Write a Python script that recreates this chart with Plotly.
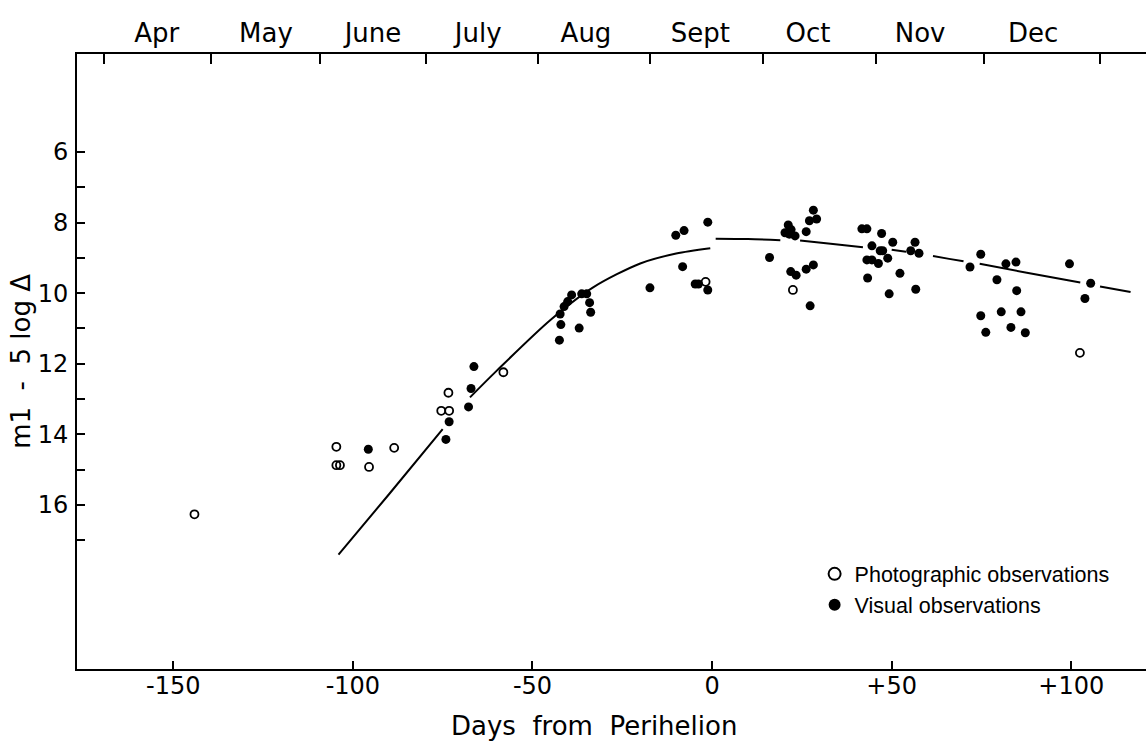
import plotly.graph_objects as go

# ---------------- data ----------------
photo_days = [-144.1, -104.6, -104.6, -103.6, -95.5, -88.5, -75.4, -73.2, -73.4, -58.1,
              -1.8, 22.5, 102.4]
photo_mag = [16.26, 14.35, 14.87, 14.87, 14.92, 14.38, 13.33, 13.33, 12.82, 12.24,
             9.68, 9.91, 11.69]

visual_days = [-95.7, -74.1, -73.2, -67.8, -67.1, -66.3,
               -42.5, -42.1, -37.0, -42.3, -41.2, -40.2, -39.1, -36.3, -34.9, -34.1, -33.8,
               -17.3, -10.1, -7.8, -8.2, -4.7, -3.8, -1.2, -1.2,
               16.0, 20.3, 21.2, 21.5, 22.0, 23.1, 26.2, 27.1, 28.2, 29.1,
               21.9, 23.4, 26.2, 28.2, 27.3,
               41.7, 43.1, 47.2, 50.3, 56.5, 44.5, 46.8, 47.5, 55.3, 57.6,
               43.1, 44.5, 46.3, 48.9, 52.3, 43.3, 49.3, 56.7,
               74.8, 71.8, 81.8, 84.6, 99.5, 79.3, 84.8, 105.4, 103.8,
               74.8, 80.5, 86.0, 76.2, 83.2, 87.2]
visual_mag = [14.42, 14.14, 13.64, 13.22, 12.70, 12.08,
              11.33, 10.89, 10.99, 10.59, 10.38, 10.24, 10.05, 10.02, 10.02, 10.27, 10.54,
              9.85, 8.36, 8.23, 9.25, 9.74, 9.74, 7.99, 9.91,
              8.99, 8.29, 8.07, 8.33, 8.20, 8.38, 8.26, 7.95, 7.65, 7.90,
              9.39, 9.49, 9.32, 9.20, 10.36,
              8.18, 8.18, 8.31, 8.56, 8.56, 8.66, 8.80, 8.80, 8.80, 8.87,
              9.06, 9.06, 9.16, 9.01, 9.44, 9.57, 10.02, 9.89,
              8.90, 9.26, 9.17, 9.12, 9.17, 9.62, 9.93, 9.72, 10.15,
              10.64, 10.53, 10.53, 11.11, 10.97, 11.12]

# drawn light curves (gaps where the drawn line is broken)
pre_days = [-104, -90, -75, None, -67.4, -60, -45, -33, -20, -10, -0.5]
pre_mag = [17.4, 15.7, 13.85, None, 12.95, 12.2, 10.76, 9.83, 9.16, 8.88, 8.73]

post_days = [1, 10, 19, None, 24.5, 33, 42, None, 50, 54, None, 61.5, 66, 70, None,
             74.5, 88, 102.5, None, 108, 116.5]
post_mag = [8.46, 8.47, 8.50, None, 8.51, 8.60, 8.70, None, 8.77, 8.83, None, 8.95, 9.03, 9.10, None,
            9.17, 9.43, 9.70, None, 9.81, 9.97]

x_ticks = [-150, -100, -50, 0, 50, 100]
x_ticktext = ["-150", "-100", "-50", "0", "+50", "+100"]
y_ticks = [6, 7, 8, 9, 10, 11, 12, 13, 14, 15, 16, 17]
y_ticktext = ["6", "", "8", "", "10", "", "12", "", "14", "", "16", ""]

month_bounds = [-169.3, -139.5, -109.1, -79.6, -48.4, -17.3, 14.2, 45.7, 75.7, 108.0]
month_label_pos = [-154.6, -124.2, -94.4, -65.1, -35.1, -3.3, 26.7, 57.9, 89.4]
month_names = ["Apr", "May", "June", "July", "Aug", "Sept", "Oct", "Nov", "Dec"]

X_RANGE = [-176.8, 120.8]
Y_RANGE = [20.64, 3.23]

AX_FONT = "DejaVu Sans"
LEG_FONT = "Liberation Sans"

fig = go.Figure()

fig.add_trace(go.Scatter(x=pre_days, y=pre_mag, mode="lines",
                         line=dict(color="black", width=2, shape="spline", smoothing=0.8),
                         showlegend=False, hoverinfo="skip", connectgaps=False))
fig.add_trace(go.Scatter(x=post_days, y=post_mag, mode="lines",
                         line=dict(color="black", width=2, shape="spline", smoothing=0.8),
                         showlegend=False, hoverinfo="skip", connectgaps=False))

fig.add_trace(go.Scatter(x=photo_days, y=photo_mag, mode="markers", name="Photographic observations",
                         marker=dict(symbol="circle-open", size=8, color="black",
                                     line=dict(color="black", width=1.8))))
fig.add_trace(go.Scatter(x=visual_days, y=visual_mag, mode="markers", name="Visual observations",
                         marker=dict(symbol="circle", size=9, color="black")))

# dummy traces on the top axes so that they render
fig.add_trace(go.Scatter(x=[None], y=[None], xaxis="x2", showlegend=False, hoverinfo="skip"))
fig.add_trace(go.Scatter(x=[None], y=[None], xaxis="x3", showlegend=False, hoverinfo="skip"))

fig.update_layout(
    width=1146, height=742,
    margin=dict(l=77, r=0, t=54, b=73),
    paper_bgcolor="white", plot_bgcolor="white",
    font=dict(family=AX_FONT, color="black", size=24),
    xaxis=dict(range=X_RANGE, tickvals=x_ticks, ticktext=x_ticktext, ticks="inside",
               ticklen=8, tickwidth=1.5, tickcolor="black", showline=True, linecolor="black",
               linewidth=2, showgrid=False, zeroline=False, mirror=False,
               tickfont=dict(family=AX_FONT, size=24), ticklabelstandoff=-6),
    xaxis2=dict(range=X_RANGE, overlaying="x", side="top", tickvals=month_bounds,
                showticklabels=False, ticks="inside", ticklen=10, tickwidth=1.5, tickcolor="black",
                showline=True, linecolor="black", linewidth=2, showgrid=False, zeroline=False),
    xaxis3=dict(range=X_RANGE, overlaying="x", side="top", tickvals=month_label_pos,
                ticktext=month_names, ticks="", showline=False, showgrid=False, zeroline=False,
                tickfont=dict(family=AX_FONT, size=26), ticklabelstandoff=6),
    yaxis=dict(range=Y_RANGE, tickvals=y_ticks, ticktext=y_ticktext, ticks="inside",
               ticklen=8, tickwidth=1.5, tickcolor="black", showline=True, linecolor="black",
               linewidth=2, showgrid=False, zeroline=False,
               tickfont=dict(family=AX_FONT, size=24), ticklabelstandoff=2),
    legend=dict(x=0.69, y=0.188, xanchor="left", yanchor="top", bgcolor="rgba(0,0,0,0)",
                font=dict(family=LEG_FONT, size=21.5), itemsizing="constant",
                tracegroupgap=0),
    annotations=[
        dict(text="Days  from  Perihelion", xref="paper", yref="paper", x=0.4836, y=-0.0927,
             xanchor="center", yanchor="middle", showarrow=False,
             font=dict(family=AX_FONT, size=26)),
        dict(text="m1  -  5 log Δ", xref="paper", yref="paper", x=-0.053, y=0.5,
             xanchor="center", yanchor="middle", textangle=-90, showarrow=False,
             font=dict(family=AX_FONT, size=26)),
    ],
)

fig.write_html("out.html")
